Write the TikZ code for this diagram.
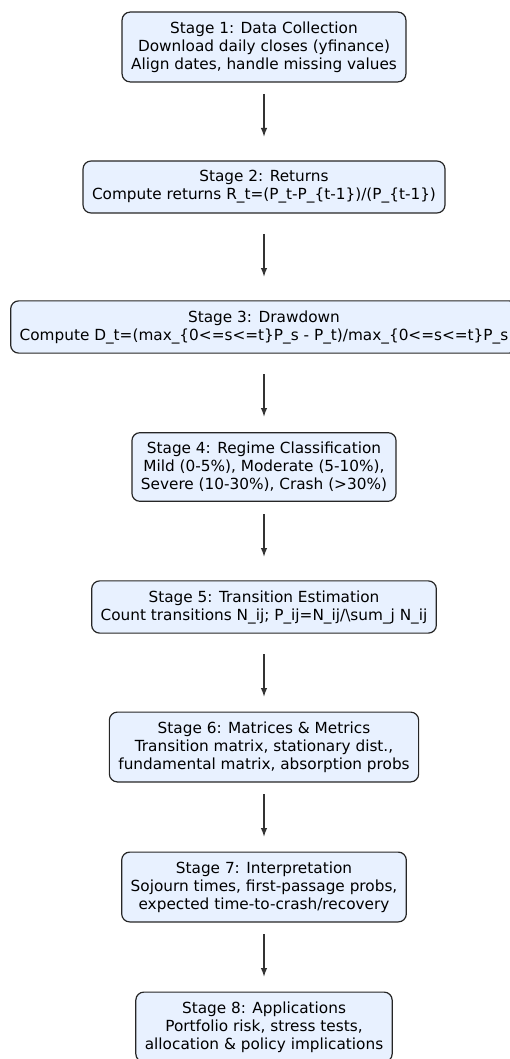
\documentclass[tikz,border=0pt]{standalone}
\usepackage{fontspec}
\setmainfont{DejaVu Sans}
\usetikzlibrary{arrows.meta}
\definecolor{stagefill}{HTML}{E8F1FF}
\definecolor{flowgray}{HTML}{333333}

\begin{document}
\begin{tikzpicture}[x=1pt, y=1pt,
  stagebox/.style={draw=black!85, line width=1.2pt, fill=stagefill,
                   rounded corners=8pt, align=center,
                   inner xsep=9pt, inner ysep=9.5pt,
                   font=\fontsize{15.3}{18}\selectfont},
  flow/.style={-{Latex[length=9pt,width=6.5pt]}, draw=flowgray, line width=1.4pt,
               shorten <=47pt, shorten >=50pt}]
\useasboundingbox (0,0) rectangle (510,-1059);

\node[stagebox] (s1) at (264,-47)  {Stage 1: Data Collection\\Download daily closes (yfinance)\\Align dates, handle missing values};
\node[stagebox] (s2) at (264,-187) {Stage 2: Returns\\Compute returns R\_t=(P\_t-P\_\{t-1\})/(P\_\{t-1\})};
\node[stagebox] (s3) at (264,-327) {Stage 3: Drawdown\\Compute D\_t=(max\_\{0<=s<=t\}P\_s - P\_t)/max\_\{0<=s<=t\}P\_s};
\node[stagebox] (s4) at (264,-467) {Stage 4: Regime Classification\\Mild (0-5\%), Moderate (5-10\%),\\Severe (10-30\%), Crash (>30\%)};
\node[stagebox] (s5) at (264,-607) {Stage 5: Transition Estimation\\Count transitions N\_ij; P\_ij=N\_ij/\textbackslash sum\_j N\_ij};
\node[stagebox] (s6) at (264,-747) {Stage 6: Matrices \& Metrics\\Transition matrix, stationary dist.,\\fundamental matrix, absorption probs};
\node[stagebox] (s7) at (264,-887) {Stage 7: Interpretation\\Sojourn times, first-passage probs,\\expected time-to-crash/recovery};
\node[stagebox] (s8) at (264,-1027) {Stage 8: Applications\\Portfolio risk, stress tests,\\allocation \& policy implications};

\foreach \i [evaluate=\i as \j using int(\i+1)] in {1,...,7}
  \draw[flow] (s\i.center) -- (s\j.center);
\end{tikzpicture}
\end{document}
